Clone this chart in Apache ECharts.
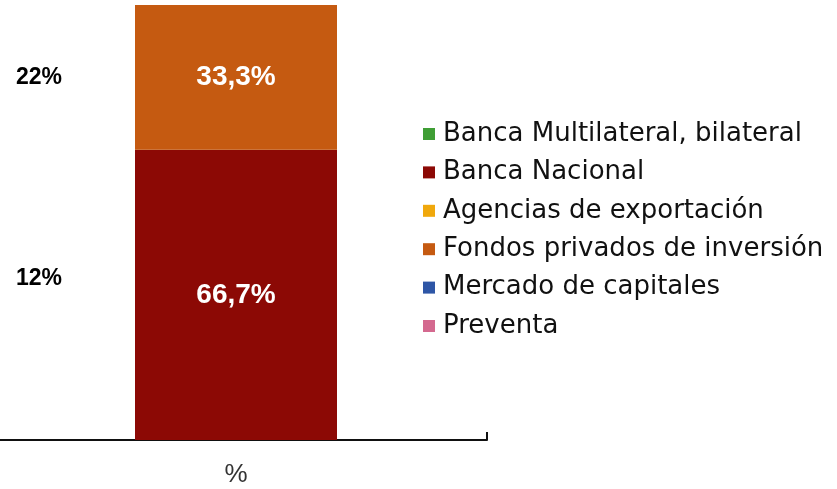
<!DOCTYPE html>
<html>
<head>
<meta charset="utf-8">
<script src="https://cdn.jsdelivr.net/npm/echarts@6/dist/echarts.min.js"></script>
<style>
  html, body { margin: 0; padding: 0; background: #ffffff; }
  #chart { width: 837px; height: 489px; }
</style>
</head>
<body>
<div id="chart"></div>
<script>
// Financing sources share (%)
const categories = ['%'];
const sourceNames = [
  'Banca Multilateral, bilateral',
  'Banca Nacional',
  'Agencias de exportación',
  'Fondos privados de inversión',
  'Mercado de capitales',
  'Preventa'
];
const sourceColors = ['#3f9e35', '#8c0905', '#f0a80c', '#c55a11', '#2e56a6', '#d4698f'];
const sourceValues = [null, 66.7, null, 33.3, null, null];

// Labels printed at the left edge, with the level they sit at
const sideLabels = ['22%', '12%'];
const sideLabelLevels = [83.2, 37.2];

const chart = echarts.init(document.getElementById('chart'), null, { renderer: 'canvas' });

const fmt = v => v.toFixed(1).replace('.', ',') + '%';

const series = sourceNames.map((name, i) => ({
  name,
  type: 'bar',
  stack: 'total',
  barWidth: 202,
  itemStyle: { color: sourceColors[i] },
  label: {
    show: sourceValues[i] != null,
    position: 'inside',
    color: '#ffffff',
    fontFamily: 'Liberation Sans, Arial, sans-serif',
    fontWeight: 'bold',
    fontSize: 28,
    formatter: p => fmt(p.value)
  },
  data: [sourceValues[i]]
}));

// side labels anchored on the left edge of the plot
series.push({
  name: 'side',
  type: 'scatter',
  symbolSize: 0,
  silent: true,
  xAxisIndex: 1,
  itemStyle: { opacity: 1 },
  data: sideLabelLevels.map((v, i) => ({ value: [0, v], label: { formatter: sideLabels[i] } })),
  label: {
    show: true,
    position: 'right',
    distance: 31,
    color: '#000000',
    fontFamily: 'Liberation Sans, Arial, sans-serif',
    fontWeight: 'bold',
    fontSize: 23
  }
});

chart.setOption({
  animation: false,
  backgroundColor: '#ffffff',
  grid: {
    left: -15, right: 350, top: 5, bottom: 49,
    containLabel: false,
    outerBoundsMode: 'none'
  },
  legend: {
    data: sourceNames,
    orient: 'vertical',
    left: 418,
    top: 116,
    itemWidth: 12,
    itemHeight: 12,
    itemGap: 12.4,
    icon: 'rect',
    textStyle: {
      fontFamily: 'DejaVu Sans, sans-serif',
      fontSize: 26,
      color: '#111111',
      lineHeight: 25,
      padding: [0, 0, 0, 3]
    }
  },
  xAxis: [{
    type: 'category',
    data: categories,
    axisLine: { show: true, lineStyle: { color: '#111111', width: 2 } },
    axisTick: { show: true, inside: true, length: 8, lineStyle: { color: '#111111', width: 2 } },
    axisLabel: {
      color: '#333333',
      fontFamily: 'Liberation Sans, Arial, sans-serif',
      fontSize: 26,
      margin: 22
    }
  }, {
    type: 'value',
    min: 0,
    max: 10,
    show: false
  }],
  yAxis: {
    type: 'value',
    min: 0,
    max: 100,
    show: false
  },
  series
});
</script>
</body>
</html>
